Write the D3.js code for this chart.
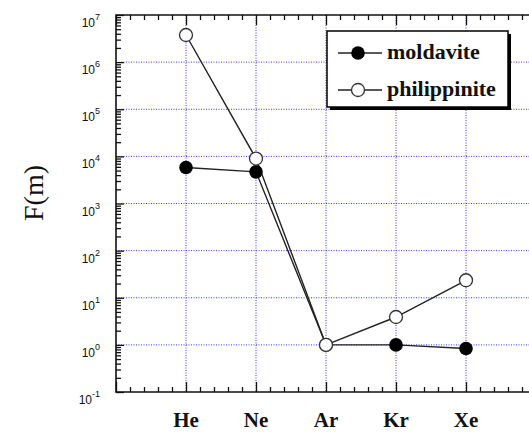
<!DOCTYPE html>
<html>
<head>
<meta charset="utf-8">
<script src="https://cdn.jsdelivr.net/npm/d3@7"></script>
<style>
  body { margin: 0; background: #fff; }
  svg { display: block; }
</style>
</head>
<body>
<div class="canvas"></div>
<script>
const elements = ['He', 'Ne', 'Ar', 'Kr', 'Xe'];
const moldavite = [5800, 4700, 1.0, 1.0, 0.84];
const philippinite = [3.76e6, 9000, 1.0, 3.9, 23.5];
const seriesNames = ['moldavite', 'philippinite'];
const yLabel = 'F(m)';

const width = 529, height = 434;
const plotLeft = 116, plotTop = 15, plotBottom = 392;

const svg = d3.select('.canvas').append('svg')
    .attr('width', width)
    .attr('height', height);

// Scales
const x = d3.scaleLinear().domain([0, 6]).range([plotLeft, 536]);
const y = d3.scaleLog().domain([0.1, 1e7]).range([plotBottom, plotTop]);

const decades = d3.range(-1, 8).map(e => Math.pow(10, e));
const gridColor = '#3a3af0';

// grid
svg.append('g').selectAll('line')
    .data(decades.filter(d => d > 0.1 && d < 1e7))
    .enter().append('line')
    .attr('x1', plotLeft).attr('x2', width)
    .attr('y1', d => y(d)).attr('y2', d => y(d))
    .attr('stroke', gridColor)
    .attr('stroke-width', 1)
    .attr('stroke-dasharray', '1,1.5');

svg.append('g').selectAll('line')
    .data(elements)
    .enter().append('line')
    .attr('x1', (d, i) => x(i + 1)).attr('x2', (d, i) => x(i + 1))
    .attr('y1', plotTop).attr('y2', plotBottom)
    .attr('stroke', gridColor)
    .attr('stroke-width', 1)
    .attr('stroke-dasharray', '1,1.5');

// y axis, ticks inward
const yAxis = d3.axisRight(y)
    .tickValues(y.ticks(80).filter(d => d >= 0.1 && d <= 1e7))
    .tickSizeInner(5).tickSizeOuter(0)
    .tickFormat('');
const yg = svg.append('g')
    .attr('transform', `translate(${plotLeft},0)`)
    .call(yAxis);
yg.selectAll('.tick line')
    .attr('x2', d => decades.some(v => Math.abs(Math.log10(v) - Math.log10(d)) < 1e-6) ? 8 : 5);

// x axis ticks, bottom and top, inward
const xTicks = d3.range(0, 31).map(i => i * 0.2).filter(d => x(d) < width + 2);
const isMajor = d => Math.abs(d - Math.round(d)) < 1e-6;
const xb = svg.append('g')
    .attr('transform', `translate(0,${plotBottom})`)
    .call(d3.axisTop(x).tickValues(xTicks).tickSizeOuter(0).tickFormat(''));
xb.selectAll('.tick line').attr('y2', d => isMajor(d) ? -10 : -5);
const xt = svg.append('g')
    .attr('transform', `translate(0,${plotTop})`)
    .call(d3.axisBottom(x).tickValues(xTicks).tickSizeOuter(0).tickFormat(''));
xt.selectAll('.tick line').attr('y2', d => isMajor(d) ? 10 : 5);

svg.selectAll('.domain').remove();
svg.selectAll('.tick line').attr('stroke', '#111').attr('stroke-width', 1.3);

// frame
svg.append('path')
    .attr('d', `M${width + 5},${plotTop}H${plotLeft}V${plotBottom}H${width + 5}`)
    .attr('fill', 'none')
    .attr('stroke', '#111')
    .attr('stroke-width', 1.6);

// y tick labels
const yLabels = svg.append('g')
    .attr('font-family', 'Liberation Sans, Arial, sans-serif')
    .attr('fill', '#111');
decades.forEach(d => {
    const t = yLabels.append('text')
        .attr('x', 100)
        .attr('y', y(d) + 12)
        .attr('text-anchor', 'end')
        .attr('font-size', 12);
    t.append('tspan').text('10');
    t.append('tspan').attr('dy', -7).attr('font-size', 9).text(Math.round(Math.log10(d)));
});

// x labels
svg.append('g').selectAll('text')
    .data(elements)
    .enter().append('text')
    .attr('x', (d, i) => x(i + 1))
    .attr('y', 427)
    .attr('text-anchor', 'middle')
    .attr('font-family', 'Liberation Serif, Times New Roman, serif')
    .attr('font-weight', 'bold')
    .attr('font-size', 21)
    .attr('fill', '#111')
    .text(d => d);

// y label
svg.append('text')
    .attr('transform', `translate(43,193) rotate(-90)`)
    .attr('text-anchor', 'middle')
    .attr('font-family', 'Liberation Serif, Times New Roman, serif')
    .attr('font-size', 28)
    .attr('fill', '#111')
    .text(yLabel);

// lines
const line = d3.line()
    .x((d, i) => x(i + 1))
    .y(d => y(d));

[moldavite, philippinite].forEach(s => {
    svg.append('path')
        .datum(s)
        .attr('fill', 'none')
        .attr('stroke', '#222')
        .attr('stroke-width', 1.4)
        .attr('d', line);
});

// markers
svg.append('g').selectAll('circle')
    .data(moldavite)
    .enter().append('circle')
    .attr('cx', (d, i) => x(i + 1))
    .attr('cy', d => y(d))
    .attr('r', 6.8)
    .attr('fill', '#000');

svg.append('g').selectAll('circle')
    .data(philippinite)
    .enter().append('circle')
    .attr('cx', (d, i) => x(i + 1))
    .attr('cy', d => y(d))
    .attr('r', 6.5)
    .attr('fill', '#fff')
    .attr('stroke', '#333')
    .attr('stroke-width', 1.3);

// legend
const lx = 327, ly = 31, lw = 181, lh = 76;
svg.append('rect')
    .attr('x', lx + 3).attr('y', ly + 3)
    .attr('width', lw).attr('height', lh)
    .attr('fill', '#000');
svg.append('rect')
    .attr('x', lx).attr('y', ly)
    .attr('width', lw).attr('height', lh)
    .attr('fill', '#fff')
    .attr('stroke', '#000')
    .attr('stroke-width', 1.5);

const legendRows = [ly + 22, ly + 59];
seriesNames.forEach((name, i) => {
    const ry = legendRows[i];
    svg.append('line')
        .attr('x1', lx + 11).attr('x2', lx + 55)
        .attr('y1', ry).attr('y2', ry)
        .attr('stroke', '#222').attr('stroke-width', 1.4);
    svg.append('circle')
        .attr('cx', lx + 31).attr('cy', ry)
        .attr('r', i === 0 ? 6.8 : 6.5)
        .attr('fill', i === 0 ? '#000' : '#fff')
        .attr('stroke', i === 0 ? 'none' : '#333')
        .attr('stroke-width', 1.3);
    svg.append('text')
        .attr('x', lx + 60)
        .attr('y', ry + 6)
        .attr('font-family', 'Liberation Serif, Times New Roman, serif')
        .attr('font-weight', 'bold')
        .attr('font-size', 22)
        .attr('fill', '#111')
        .text(name);
});
</script>
</body>
</html>
